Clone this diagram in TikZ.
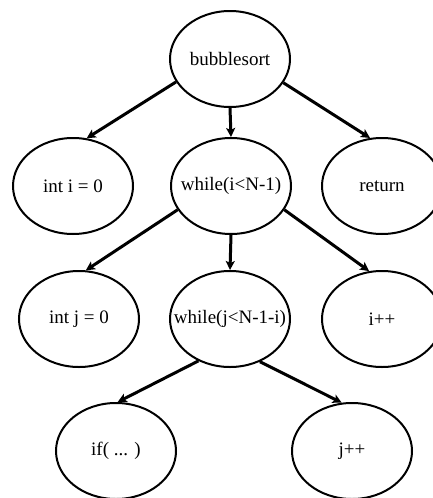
\documentclass[tikz,border=0pt]{standalone}
\usepackage{fontspec}
\setmainfont{Liberation Serif}
\usepackage{tikz}
\usetikzlibrary{shapes.geometric}
\usetikzlibrary{arrows.meta}
\newcommand{\treenode}[4] % name, x in px, y in px, text
{
	% ellipse with the text kept out of its size
	\node[blob] (#1) at (#2,#3) {\makebox[0pt]{#4}};
}

\begin{document}
\begin{tikzpicture}[x=1pt, y=-1pt,
	blob/.style={ellipse, draw, line width=2pt, minimum width=120pt, minimum height=96pt, inner sep=0pt, font=\fontsize{19}{22}\selectfont},
	link/.style={line width=3pt, -{Stealth[length=9pt, width=9pt, inset=2pt]}}]
	% canvas: 433px x 498px
	\useasboundingbox (0, 0) rectangle (433, 498);

	% level 0
	\treenode{bsort}{230}{59}{bubblesort};
	% level 1
	\treenode{initi}{73}{186}{int i = 0};
	\treenode{whilei}{231}{186}{while(i<N-1)};
	\treenode{ret}{382}{186}{return};
	% level 2
	\treenode{initj}{79}{319}{int j = 0};
	\treenode{whilej}{230}{319}{while(j<N-1-i)};
	\treenode{incri}{382}{319}{i++};
	% level 3
	\treenode{ifcmp}{116}{451}{if( ... )};
	\treenode{incrj}{352}{451}{j++};

	% edges
	\draw[link] (bsort.203) -- (initi.74);
	\draw[link] (bsort.south) -- (whilei.north);
	\draw[link] (bsort.336) -- (ret.104);
	\draw[link] (whilei.204) -- (initj.82);
	\draw[link] (whilei.south) -- (whilej.north);
	\draw[link] (whilei.336) -- (incri.105);
	\draw[link] (whilej.233) -- (ifcmp.88);
	\draw[link] (whilej.305) -- (incrj.102);
\end{tikzpicture}
\end{document}
